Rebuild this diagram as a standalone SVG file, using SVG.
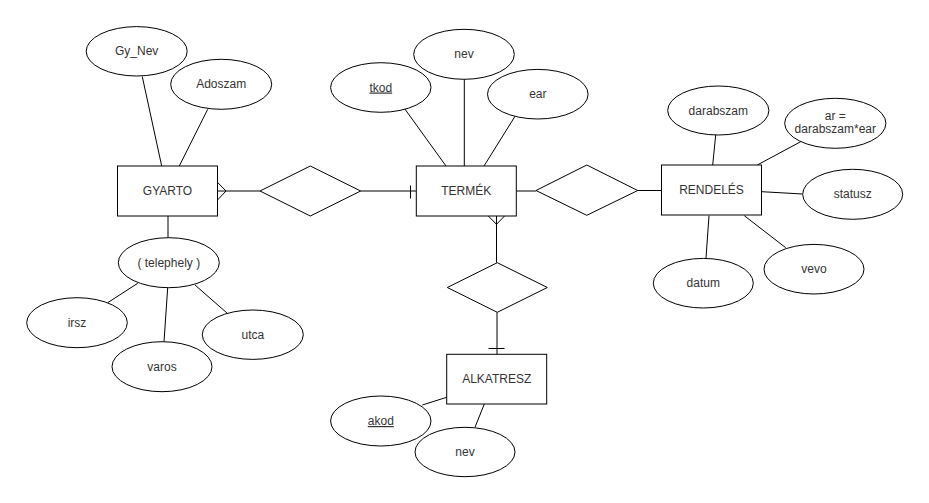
<svg xmlns="http://www.w3.org/2000/svg" width="929" height="503" viewBox="0 0 929 503">
<style>
.s{fill:#fff;stroke:#000;stroke-width:1}
.c{fill:none;stroke:#000;stroke-width:1}
text{font-family:"Liberation Sans",Arial,sans-serif;font-size:12px;fill:#333;text-anchor:middle}
.u{text-decoration:underline}
</style>
<rect width="929" height="503" fill="#fff"/>
<g id="connectors">
<line class="c" x1="142.3" y1="76.7" x2="161.7" y2="166"/>
<line class="c" x1="207.7" y1="109.3" x2="179.3" y2="166"/>
<line class="c" x1="168" y1="216" x2="168" y2="237.7"/>
<line class="c" x1="137.7" y1="283.3" x2="107.7" y2="302.7"/>
<line class="c" x1="167.7" y1="287.7" x2="164" y2="341.7"/>
<line class="c" x1="195" y1="285" x2="227.3" y2="313.3"/>
<line class="c" x1="400" y1="102.3" x2="446" y2="166"/>
<line class="c" x1="464.3" y1="79.3" x2="464.3" y2="166"/>
<line class="c" x1="520" y1="108.3" x2="484" y2="166"/>
<line class="c" x1="715.7" y1="135" x2="712.7" y2="165"/>
<line class="c" x1="800.7" y1="141.7" x2="757.3" y2="165"/>
<line class="c" x1="761.7" y1="191.7" x2="802.7" y2="194"/>
<line class="c" x1="744.3" y1="215.7" x2="785.7" y2="247.7"/>
<line class="c" x1="709" y1="215.7" x2="706" y2="258"/>
<line class="c" x1="422.3" y1="405" x2="446.7" y2="397.3"/>
<line class="c" x1="484.3" y1="404" x2="475" y2="427.3"/>
<line class="c" x1="217.5" y1="191" x2="260" y2="191"/>
<polyline class="c" points="217.5,182.3 226,191 217.5,200"/>
<line class="c" x1="360.5" y1="191" x2="416" y2="191"/>
<line class="c" x1="410.5" y1="185.5" x2="410.5" y2="198.5"/>
<line class="c" x1="516.5" y1="191" x2="536" y2="191"/>
<line class="c" x1="637.5" y1="190.5" x2="661.5" y2="190.5"/>
<line class="c" x1="496.5" y1="216" x2="496.5" y2="262.7"/>
<polyline class="c" points="488.3,216 496.5,224.3 504.5,216"/>
<line class="c" x1="497" y1="312.3" x2="497" y2="354.3"/>
<line class="c" x1="488.5" y1="348.5" x2="504.5" y2="348.5"/>
</g>
<g id="gyarto"><rect class="s" x="117.5" y="166" width="100" height="50"/><text x="167.5" y="195">GYARTO</text></g>
<g id="gy_nev"><ellipse class="s" cx="136.7" cy="51.3" rx="50.5" ry="24.7"/><text x="136.7" y="55.3">Gy_Nev</text></g>
<g id="adoszam"><ellipse class="s" cx="221.2" cy="84.3" rx="50.5" ry="25"/><text x="221.2" y="88.3">Adoszam</text></g>
<g id="telephely"><ellipse class="s" cx="168.8" cy="262.7" rx="50.5" ry="25"/><text x="168.8" y="266.7">( telephely )</text></g>
<g id="irsz"><ellipse class="s" cx="77" cy="322.7" rx="50.3" ry="25"/><text x="77" y="326.7">irsz</text></g>
<g id="varos"><ellipse class="s" cx="162" cy="366.7" rx="50" ry="25"/><text x="162" y="370.7">varos</text></g>
<g id="utca"><ellipse class="s" cx="252.8" cy="334.7" rx="50.5" ry="24.7"/><text x="252.8" y="338.7">utca</text></g>
<g id="rel1"><polygon class="s" points="260,191 310.3,166 360.7,191 310.3,216"/></g>
<g id="termek"><rect class="s" x="416.3" y="166" width="100" height="50"/><text x="466.3" y="195">TERMÉK</text></g>
<g id="tkod"><ellipse class="s" cx="380.8" cy="87.5" rx="50.2" ry="24.8"/><text class="u" x="380.8" y="91.5">tkod</text></g>
<g id="nev"><ellipse class="s" cx="464" cy="54.3" rx="50.3" ry="25"/><text x="464" y="58.3">nev</text></g>
<g id="ear"><ellipse class="s" cx="537.8" cy="94.2" rx="50.3" ry="24.8"/><text x="537.8" y="98.2">ear</text></g>
<g id="rel2"><polygon class="s" points="536,190.5 586.8,165 637.7,190.5 586.8,215.3"/></g>
<g id="rendeles"><rect class="s" x="661.5" y="165" width="100" height="50"/><text x="711.5" y="194">RENDELÉS</text></g>
<g id="darabszam"><ellipse class="s" cx="718.3" cy="110.5" rx="50.6" ry="24.5"/><text x="718.3" y="114.5">darabszam</text></g>
<g id="ar"><ellipse class="s" cx="835.3" cy="123.3" rx="50.6" ry="25"/><text x="835.3" y="120">ar =</text><text x="835.3" y="133">darabszam*ear</text></g>
<g id="statusz"><ellipse class="s" cx="852.7" cy="194.3" rx="50" ry="25"/><text x="852.7" y="198.3">statusz</text></g>
<g id="vevo"><ellipse class="s" cx="814" cy="269.2" rx="50" ry="24.8"/><text x="814" y="273.2">vevo</text></g>
<g id="datum"><ellipse class="s" cx="703.3" cy="283.2" rx="50" ry="24.8"/><text x="703.3" y="287.2">datum</text></g>
<g id="rel3"><polygon class="s" points="447.3,287.5 497.3,262.7 547.3,287.5 497.3,312.3"/></g>
<g id="alkatresz"><rect class="s" x="446.7" y="354.3" width="100" height="49.7"/><text x="496.7" y="383">ALKATRESZ</text></g>
<g id="akod"><ellipse class="s" cx="380.8" cy="421" rx="50.2" ry="25"/><text class="u" x="380.8" y="425">akod</text></g>
<g id="nev2"><ellipse class="s" cx="465" cy="452" rx="50" ry="24.7"/><text x="465" y="456">nev</text></g>
</svg>
